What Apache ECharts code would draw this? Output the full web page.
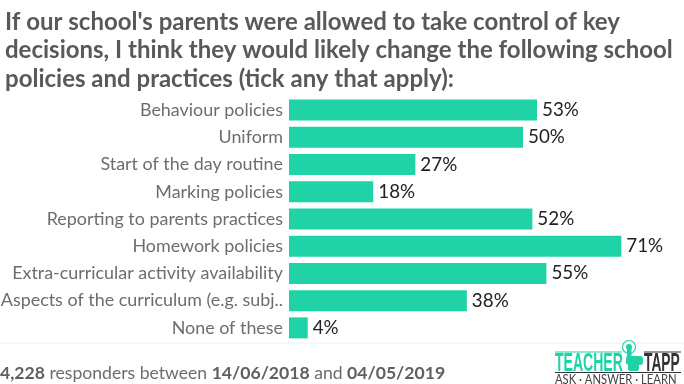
<!DOCTYPE html>
<html>
<head>
<meta charset="utf-8">
<style>
  html, body { margin: 0; padding: 0; background: #fff; }
  #chart { width: 684px; height: 384px; }
</style>
<script src="https://cdn.jsdelivr.net/npm/echarts@6/dist/echarts.min.js"></script>
</head>
<body>
<div id="chart"></div>
<script>
var categories = [
  'Behaviour policies',
  'Uniform',
  'Start of the day routine',
  'Marking policies',
  'Reporting to parents practices',
  'Homework policies',
  'Extra-curricular activity availability',
  'Aspects of the curriculum (e.g. subj..',
  'None of these'
];
var percentages = [53, 50, 27, 18, 52, 71, 55, 38, 4];

var titleText = "If our school's parents were allowed to take control of key\ndecisions, I think they would likely change the following school\npolicies and practices (tick any that apply):";

var GREEN = '#1fd3a7';
var GREY = '#58595b';

var chart = echarts.init(document.getElementById('chart'), null, { renderer: 'canvas' });

var option = {
  backgroundColor: '#ffffff',
  animation: false,
  textStyle: { fontFamily: 'Lato' },
  title: {
    text: titleText,
    left: 5,
    top: 8,
    padding: 0,
    textStyle: { fontFamily: 'Lato', fontSize: 24, fontWeight: 'bold', color: GREY, lineHeight: 28.5 }
  },
  // 80% spans 374px, labels may run past the grid
  grid: { left: 289, top: 96.5, width: 374.4, height: 245, outerBoundsMode: 'none' },
  xAxis: { type: 'value', min: 0, max: 80, show: false },
  yAxis: {
    type: 'category',
    inverse: true,
    data: categories,
    axisLine: { show: false },
    axisTick: { show: false },
    axisLabel: { color: '#6b6d70', fontFamily: 'Lato', fontSize: 17.9, margin: 6 }
  },
  series: [{
    type: 'bar',
    data: percentages,
    barWidth: 21,
    itemStyle: { color: GREEN },
    label: {
      show: true,
      position: 'right',
      distance: 5,
      formatter: '{c}%',
      color: '#222',
      fontFamily: 'Lato',
      fontSize: 18.8
    }
  }],
  graphic: [
    { type: 'line', shape: { x1: 0, y1: 343, x2: 684, y2: 343 }, style: { stroke: '#eeeeee', lineWidth: 1 } },
    { type: 'text', left: 0, top: 364, style: {
      rich: {
        b: { fontFamily: 'Lato', fontSize: 17.6, fontWeight: 'bold', fill: '#5f6062' },
        n: { fontFamily: 'Lato', fontSize: 17.6, fill: '#6b6d70' }
      },
      text: '{b|4,228}{n| responders between }{b|14/06/2018}{n| and }{b|04/05/2019}'
    } },
    // logo
    { type: 'text', x: 555, y: 351, scaleX: 0.54, style: { text: 'TEACHER', fontFamily: 'Liberation Sans', fontWeight: 'bold', fontSize: 26, fill: GREEN } },
    { type: 'text', x: 644, y: 351, scaleX: 0.53, style: { text: 'TAPP', fontFamily: 'Liberation Sans', fontWeight: 'bold', fontSize: 26, fill: '#333' } },
    { type: 'line', shape: { x1: 555, y1: 352, x2: 622, y2: 352 }, style: { stroke: GREEN, lineWidth: 1 } },
    { type: 'line', shape: { x1: 644, y1: 352, x2: 681, y2: 352 }, style: { stroke: '#333', lineWidth: 1 } },
    { type: 'line', shape: { x1: 555, y1: 372.5, x2: 681, y2: 372.5 }, style: { stroke: '#333', lineWidth: 1 } },
    { type: 'text', x: 555, y: 373, scaleX: 0.9, style: { text: 'ASK \u00b7 ANSWER \u00b7 LEARN', fontFamily: 'Lato', fontSize: 12.5, fill: '#444' } },
    { type: 'circle', shape: { cx: 629, cy: 347, r: 6.5 }, style: { fill: 'none', stroke: GREEN, lineWidth: 1.2 } },
    { type: 'circle', shape: { cx: 629, cy: 347, r: 3 }, style: { fill: GREEN } },
    { type: 'rect', shape: { x: 627, y: 347, width: 4.5, height: 14, r: 2 }, style: { fill: GREEN } },
    { type: 'rect', shape: { x: 626, y: 356, width: 17, height: 9, r: 3 }, style: { fill: GREEN } },
    { type: 'rect', shape: { x: 628, y: 364, width: 11, height: 7, r: 2 }, style: { fill: GREEN } }
  ]
};
chart.setOption(option);
</script>
</body>
</html>
